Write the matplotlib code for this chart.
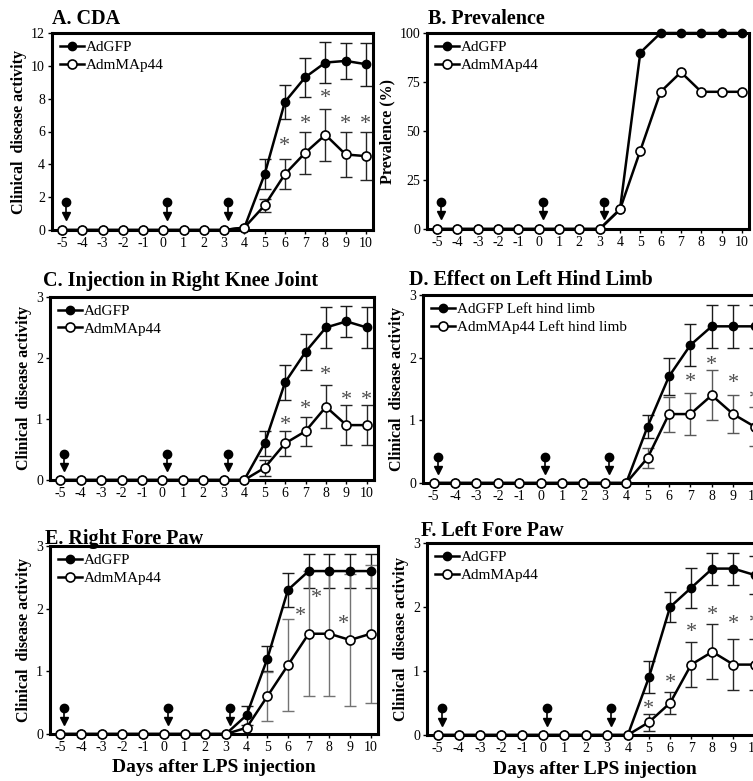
import numpy as np
import matplotlib
matplotlib.use('Agg')
import matplotlib.pyplot as plt
import matplotlib.transforms as mtrans

plt.rcParams['font.family'] = ['Liberation Serif', 'DejaVu Serif']
plt.rcParams['axes.unicode_minus'] = False

# days after LPS injection
days = list(range(-5, 11))
pre = [0] * 9  # days -5 .. 3
inj_days = [-5, 0, 3]

# A. CDA
a_gfp = pre + [0.15, 3.4, 7.8, 9.3, 10.2, 10.3, 10.1]
a_gfp_err = pre + [0, 0.9, 1.05, 1.2, 1.25, 1.1, 1.3]
a_map = pre + [0.15, 1.5, 3.4, 4.7, 5.8, 4.6, 4.5]
a_map_err = pre + [0, 0.4, 0.9, 1.3, 1.6, 1.4, 1.45]
a_star_x = [6, 7, 8, 9, 10]
a_star_y = [5.1, 6.4, 8.0, 6.4, 6.4]

# B. Prevalence
b_gfp = pre + [10, 90, 100, 100, 100, 100, 100]
b_map = pre + [10, 40, 70, 80, 70, 70, 70]

# C. right knee
c_gfp = pre + [0, 0.6, 1.6, 2.1, 2.5, 2.6, 2.5]
c_gfp_err = pre + [0, 0.2, 0.29, 0.3, 0.33, 0.26, 0.33]
c_map = pre + [0, 0.2, 0.6, 0.8, 1.2, 0.9, 0.9]
c_map_err = pre + [0, 0.13, 0.21, 0.24, 0.35, 0.33, 0.33]
c_star_x = [6, 7, 8, 9, 10]
c_star_y = [0.9, 1.16, 1.72, 1.31, 1.31]

# D. left hind limb
d_gfp = pre + [0, 0.9, 1.7, 2.2, 2.5, 2.5, 2.5]
d_gfp_err = pre + [0, 0.18, 0.3, 0.33, 0.34, 0.34, 0.34]
d_map = pre + [0, 0.4, 1.1, 1.1, 1.4, 1.1, 0.9]
d_map_err = pre + [0, 0.16, 0.28, 0.33, 0.4, 0.3, 0.31]
d_star_x = [7, 8, 9, 10]
d_star_y = [1.6, 1.87, 1.59, 1.33]

# E. right fore paw
e_gfp = pre + [0.3, 1.2, 2.3, 2.6, 2.6, 2.6, 2.6]
e_gfp_err = pre + [0.15, 0.2, 0.27, 0.27, 0.27, 0.27, 0.27]
e_map = pre + [0.1, 0.6, 1.1, 1.6, 1.6, 1.5, 1.6]
e_map_err = pre + [0, 0.39, 0.73, 1.0, 1.0, 1.06, 1.1]
e_star_x = [6.6, 7.4, 8.7]
e_star_y = [1.87, 2.17, 1.75]

# F. left fore paw
f_gfp = pre + [0, 0.9, 2.0, 2.3, 2.6, 2.6, 2.5]
f_gfp_err = pre + [0, 0.25, 0.24, 0.31, 0.25, 0.25, 0.3]
f_map = pre + [0, 0.2, 0.5, 1.1, 1.3, 1.1, 1.1]
f_map_err = pre + [0, 0.13, 0.17, 0.35, 0.43, 0.4, 0.4]
f_star_x = [5, 6, 7, 8, 9, 10]
f_star_y = [0.4, 0.8, 1.6, 1.87, 1.73, 1.75]

W, H = 753, 781
fig = plt.figure(figsize=(W / 100, H / 100), dpi=100)


def px_axes(l, t, r, b):
    return fig.add_axes([l / W, 1 - b / H, (r - l) / W, (b - t) / H])


def panel(box, title, tpos, gfp, gfp_err, mp, mp_err, ylim, yticks,
          ylabel='Clinical  disease activity', labels=('AdGFP', 'AdmMAp44'),
          stars=None, map_ecol='0.15', xlabel=None):
    ax = px_axes(*box)
    x = np.array(days)
    gfp = np.array(gfp)
    mp = np.array(mp)
    ax.plot(x, gfp, '-', color='black', lw=1.8, marker='o', ms=6,
            mfc='black', mec='black', clip_on=False, zorder=3, label=labels[0])
    ax.plot(x, mp, '-', color='black', lw=1.8, marker='o', ms=6.5,
            mfc='white', mec='black', mew=1.2, clip_on=False, zorder=4,
            label=labels[1])
    if gfp_err is not None:
        ge = np.array(gfp_err)
        m = ge > 0
        ax.errorbar(x[m], gfp[m], yerr=ge[m], fmt='none', ecolor='0.1',
                    elinewidth=1.0, capsize=4.5, capthick=1.0, zorder=2)
    if mp_err is not None:
        me = np.array(mp_err)
        m = me > 0
        ax.errorbar(x[m], mp[m], yerr=me[m], fmt='none', ecolor=map_ecol,
                    elinewidth=1.0, capsize=4.5, capthick=1.0, zorder=2)
    if stars is not None:
        for sx, sy in zip(*stars):
            ax.text(sx, sy, '*', fontsize=16, color='0.3', ha='center',
                    va='center')

    # injection arrows
    tr = mtrans.blended_transform_factory(ax.transData, ax.transAxes)
    for d in inj_days:
        xd = d + 0.2
        ax.plot([xd], [0.14], 'o', color='black', ms=6, transform=tr,
                clip_on=False)
        ax.plot([xd, xd], [0.14, 0.08], '-', color='black', lw=1.2,
                transform=tr)
        ax.plot([xd], [0.07], 'v', color='black', ms=6, transform=tr)

    ax.set_xlim(-5.5, 10.35)
    ax.set_ylim(*ylim)
    ax.set_xticks(days)
    ax.set_yticks(yticks)
    ax.tick_params(direction='out', length=3, width=1, labelsize=10,
                   pad=2)
    for s in ax.spines.values():
        s.set_linewidth(2.2)
    ax.set_ylabel(ylabel, fontsize=11.5, fontweight='bold', labelpad=3)
    ax.legend(loc='upper left', frameon=False, fontsize=11,
              handlelength=1.6, handletextpad=0.1, labelspacing=0.25,
              borderaxespad=0.3, borderpad=0.2)
    if xlabel:
        ax.set_xlabel(xlabel, fontsize=14, fontweight='bold', labelpad=4)
    fig.text(tpos[0] / W, 1 - tpos[1] / H, title, fontsize=14.5,
             fontweight='bold', ha='left', va='baseline')
    return ax


panel((52, 33, 373, 230), 'A. CDA', (52, 24), a_gfp, a_gfp_err, a_map,
      a_map_err, (0, 12), range(0, 13, 2), stars=(a_star_x, a_star_y))
panel((427, 33, 749, 229), 'B. Prevalence', (428, 24), b_gfp, None, b_map,
      None, (0, 100), range(0, 101, 25), ylabel='Prevalence (%)')
panel((50, 297, 374, 480), 'C. Injection in Right Knee Joint', (43, 286),
      c_gfp, c_gfp_err, c_map, c_map_err, (0, 3), range(4),
      stars=(c_star_x, c_star_y))
panel((423, 295, 762, 483), 'D. Effect on Left Hind Limb', (409, 285),
      d_gfp, d_gfp_err, d_map, d_map_err, (0, 3), range(4),
      labels=('AdGFP Left hind limb', 'AdmMAp44 Left hind limb'),
      stars=(d_star_x, d_star_y), map_ecol='0.35')
panel((50, 546, 378, 734), 'E. Right Fore Paw', (45, 544), e_gfp, e_gfp_err,
      e_map, e_map_err, (0, 3), range(4), stars=(e_star_x, e_star_y),
      map_ecol='0.45', xlabel='Days after LPS injection')
panel((427, 543, 762, 735), 'F. Left Fore Paw', (421, 536), f_gfp, f_gfp_err,
      f_map, f_map_err, (0, 3), range(4), stars=(f_star_x, f_star_y),
      xlabel='Days after LPS injection')

fig.savefig('out.png', dpi=100)
